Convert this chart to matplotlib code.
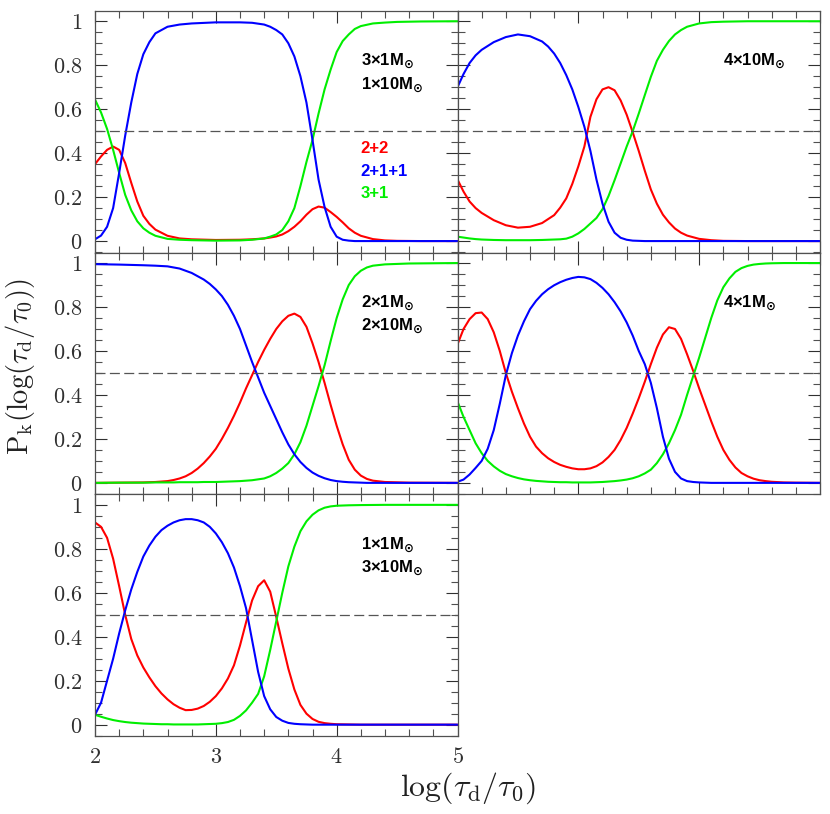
import matplotlib
matplotlib.use("Agg")
import matplotlib.pyplot as plt
from matplotlib.ticker import MultipleLocator, FuncFormatter

plt.rcParams['mathtext.fontset'] = 'cm'

# ---------------- data ----------------
# Panel 1: 3x1Msun + 1x10Msun
x1 = [2.0, 2.05, 2.1, 2.15, 2.2, 2.25, 2.3, 2.35, 2.4, 2.45, 2.5,
      2.6, 2.7, 2.8, 3.0, 3.2, 3.3, 3.4, 3.45,
      3.5, 3.55, 3.6, 3.65, 3.7, 3.75, 3.8, 3.85, 3.9, 3.95, 4.0, 4.05, 4.1, 4.15, 4.2,
      4.3, 4.4, 4.5, 4.7, 5.0]
red1 = [0.35, 0.385, 0.415, 0.43, 0.415, 0.355, 0.265, 0.18, 0.115, 0.078, 0.052,
        0.024, 0.012, 0.008, 0.005, 0.006, 0.008, 0.012, 0.016,
        0.021, 0.03, 0.045, 0.065, 0.09, 0.12, 0.145, 0.157, 0.152, 0.132, 0.11, 0.085,
        0.058, 0.038, 0.024,
        0.009, 0.003, 0.001, 0.0, 0.0]
blue1 = [0.008, 0.025, 0.065, 0.15, 0.31, 0.48, 0.63, 0.76, 0.85, 0.905, 0.945,
         0.975, 0.985, 0.99, 0.995, 0.995, 0.993, 0.985, 0.975,
         0.96, 0.94, 0.90, 0.84, 0.75, 0.63, 0.46, 0.28, 0.155, 0.065, 0.02, 0.006,
         0.002, 0.0, 0.0,
         0.0, 0.0, 0.0, 0.0, 0.0]
green1 = [0.644, 0.585, 0.51, 0.415, 0.31, 0.21, 0.14, 0.09, 0.058, 0.038, 0.024,
          0.01, 0.006, 0.004, 0.002, 0.003, 0.006, 0.012, 0.02,
          0.03, 0.05, 0.09, 0.15, 0.25, 0.36, 0.46, 0.58, 0.69, 0.78, 0.86, 0.91,
          0.94, 0.965, 0.978,
          0.99, 0.994, 0.997, 0.999, 1.0]

# Panel 2: 4x10Msun
x2 = [2.0, 2.05, 2.1, 2.15, 2.2, 2.3, 2.4, 2.5, 2.6, 2.7,
      2.75, 2.8, 2.85, 2.9, 2.95, 3.0, 3.05, 3.1, 3.15, 3.2, 3.25, 3.3, 3.35, 3.4,
      3.45, 3.5, 3.55, 3.6, 3.65, 3.7, 3.75, 3.8, 3.85,
      3.9, 4.0, 4.1, 4.2, 4.4, 4.7, 5.0]
red2 = [0.28, 0.225, 0.18, 0.15, 0.128, 0.095, 0.072, 0.061, 0.065, 0.082,
        0.1, 0.118, 0.152, 0.194, 0.26, 0.34, 0.43, 0.565, 0.645, 0.69, 0.70, 0.686,
        0.64, 0.575, 0.495, 0.41, 0.32, 0.235, 0.17, 0.12, 0.085, 0.057, 0.038,
        0.025, 0.01, 0.004, 0.001, 0.0, 0.0, 0.0]
blue2 = [0.70, 0.76, 0.81, 0.845, 0.87, 0.905, 0.928, 0.94, 0.932, 0.908,
         0.885, 0.853, 0.81, 0.755, 0.69, 0.61, 0.52, 0.41, 0.28, 0.17, 0.088, 0.038,
         0.015, 0.006, 0.002, 0.001, 0.0, 0.0, 0.0, 0.0, 0.0, 0.0, 0.0,
         0.0, 0.0, 0.0, 0.0, 0.0, 0.0, 0.0]
green2 = [0.02, 0.016, 0.012, 0.009, 0.007, 0.005, 0.004, 0.004, 0.004, 0.005,
          0.006, 0.007, 0.008, 0.011, 0.02, 0.035, 0.055, 0.08, 0.105, 0.145, 0.205,
          0.277, 0.353, 0.43, 0.5, 0.58, 0.664, 0.747, 0.82, 0.87, 0.91, 0.94, 0.96,
          0.975, 0.99, 0.996, 0.998, 1.0, 1.0, 1.0]

# Panel 3: 2x1Msun + 2x10Msun
x3 = [2.0, 2.2, 2.4, 2.5,
      2.6, 2.65, 2.7, 2.75, 2.8, 2.85, 2.9, 2.95,
      3.0, 3.05, 3.1, 3.15, 3.2, 3.25, 3.3, 3.35, 3.4, 3.45, 3.5, 3.55, 3.6, 3.65,
      3.7, 3.75, 3.8, 3.85, 3.9, 3.95,
      4.0, 4.05, 4.1, 4.15, 4.2, 4.25, 4.3,
      4.4, 4.6, 5.0]
red3 = [0.0, 0.001, 0.002, 0.004,
        0.008, 0.013, 0.02, 0.03, 0.045, 0.065, 0.09, 0.12,
        0.155, 0.2, 0.25, 0.305, 0.365, 0.43, 0.49, 0.55, 0.605, 0.655, 0.70, 0.735,
        0.76, 0.77, 0.755, 0.71, 0.635, 0.55, 0.455, 0.355,
        0.26, 0.175, 0.105, 0.06, 0.033, 0.018, 0.01,
        0.004, 0.001, 0.0]
blue3 = [0.995, 0.993, 0.99, 0.988,
         0.985, 0.98, 0.975, 0.965, 0.955, 0.94, 0.925, 0.905,
         0.88, 0.85, 0.81, 0.76, 0.70, 0.625, 0.55, 0.48, 0.41, 0.35, 0.29, 0.23,
         0.175, 0.13, 0.095, 0.068, 0.047, 0.032, 0.021, 0.013,
         0.008, 0.005, 0.003, 0.002, 0.001, 0.0, 0.0,
         0.0, 0.0, 0.0]
green3 = [0.0, 0.001, 0.001, 0.002,
          0.002, 0.002, 0.003, 0.003, 0.003, 0.003, 0.004, 0.004,
          0.004, 0.005, 0.006, 0.007, 0.008, 0.01, 0.012, 0.016, 0.02, 0.03, 0.045,
          0.065, 0.09, 0.13, 0.185, 0.26, 0.35, 0.44, 0.535, 0.645,
          0.75, 0.835, 0.9, 0.94, 0.965, 0.98, 0.988,
          0.994, 0.998, 1.0]

# Panel 4: 4x1Msun
x4 = [2.0, 2.05, 2.1, 2.15, 2.2, 2.25, 2.3, 2.35, 2.4, 2.45,
      2.5, 2.55, 2.6, 2.65, 2.7, 2.75, 2.8, 2.85, 2.9, 2.95,
      3.0, 3.05, 3.1, 3.15, 3.2, 3.25, 3.3, 3.35, 3.4, 3.45,
      3.5, 3.55, 3.6, 3.65, 3.7, 3.75, 3.8, 3.85, 3.9, 3.95,
      4.0, 4.05, 4.1, 4.15, 4.2, 4.25, 4.3, 4.35, 4.4, 4.45, 4.5, 4.55, 4.6,
      4.7, 4.8, 5.0]
red4 = [0.63, 0.70, 0.745, 0.772, 0.775, 0.745, 0.685, 0.6, 0.5, 0.415,
        0.34, 0.27, 0.21, 0.165, 0.135, 0.112, 0.095, 0.082, 0.073, 0.066,
        0.062, 0.062, 0.066, 0.076, 0.093, 0.118, 0.15, 0.195, 0.25, 0.315,
        0.385, 0.46, 0.54, 0.615, 0.675, 0.708, 0.70, 0.655, 0.585, 0.51,
        0.43, 0.355, 0.28, 0.21, 0.15, 0.105, 0.07, 0.045, 0.03, 0.019, 0.012, 0.008,
        0.005, 0.002, 0.001, 0.0]
blue4 = [0.005, 0.015, 0.038, 0.068, 0.1, 0.155, 0.24, 0.36, 0.49, 0.59,
         0.67, 0.735, 0.79, 0.828, 0.858, 0.881, 0.899, 0.913, 0.924, 0.932,
         0.937, 0.935, 0.927, 0.91, 0.887, 0.858, 0.822, 0.78, 0.73, 0.67,
         0.6, 0.54, 0.455, 0.34, 0.21, 0.11, 0.05, 0.02, 0.008, 0.004,
         0.002, 0.001, 0.0, 0.0, 0.0, 0.0, 0.0, 0.0, 0.0, 0.0, 0.0, 0.0, 0.0,
         0.0, 0.0, 0.0]
green4 = [0.37, 0.3, 0.24, 0.18, 0.135, 0.1, 0.075, 0.055, 0.04, 0.03,
          0.022, 0.016, 0.012, 0.009, 0.007, 0.005, 0.004, 0.003, 0.003, 0.002,
          0.002, 0.002, 0.002, 0.003, 0.004, 0.006, 0.008, 0.011, 0.015, 0.021,
          0.03, 0.043, 0.06, 0.09, 0.13, 0.18, 0.24, 0.31, 0.4, 0.485,
          0.57, 0.66, 0.75, 0.83, 0.89, 0.93, 0.96, 0.977, 0.987, 0.993, 0.996, 0.998,
          0.999, 1.0, 1.0, 1.0]

# Panel 5: 1x1Msun + 3x10Msun
x5 = [2.0, 2.05, 2.1, 2.15, 2.2, 2.25, 2.3, 2.35, 2.4, 2.45,
      2.5, 2.55, 2.6, 2.65, 2.7, 2.75, 2.8, 2.85, 2.9, 2.95,
      3.0, 3.05, 3.1, 3.15, 3.2, 3.25, 3.3, 3.35, 3.4, 3.45,
      3.5, 3.55, 3.6, 3.65, 3.7, 3.75, 3.8, 3.85, 3.9, 3.95,
      4.0, 4.1, 4.2, 4.4, 5.0]
red5 = [0.92, 0.9, 0.85, 0.755, 0.63, 0.5, 0.39, 0.315, 0.26, 0.215,
        0.175, 0.142, 0.115, 0.093, 0.077, 0.066, 0.067, 0.073, 0.085, 0.104,
        0.13, 0.165, 0.21, 0.27, 0.36, 0.465, 0.565, 0.63, 0.657, 0.605,
        0.49, 0.37, 0.255, 0.16, 0.09, 0.05, 0.026, 0.013, 0.007, 0.004,
        0.002, 0.001, 0.0, 0.0, 0.0]
blue5 = [0.045, 0.1, 0.2, 0.3, 0.415, 0.52, 0.615, 0.695, 0.765, 0.815,
         0.855, 0.885, 0.905, 0.92, 0.93, 0.935, 0.935, 0.93, 0.92, 0.9,
         0.87, 0.83, 0.78, 0.715, 0.63, 0.53, 0.385, 0.24, 0.13, 0.07,
         0.035, 0.018, 0.008, 0.004, 0.002, 0.001, 0.0, 0.0, 0.0, 0.0,
         0.0, 0.0, 0.0, 0.0, 0.0]
green5 = [0.045, 0.036, 0.028, 0.021, 0.016, 0.012, 0.009, 0.007, 0.005, 0.004,
          0.003, 0.002, 0.002, 0.001, 0.001, 0.001, 0.001, 0.001, 0.002, 0.003,
          0.004, 0.007, 0.012, 0.022, 0.04, 0.065, 0.1, 0.14, 0.22, 0.34,
          0.47, 0.6, 0.72, 0.81, 0.88, 0.925, 0.955, 0.975, 0.987, 0.993,
          0.996, 0.998, 0.999, 1.0, 1.0]

panel_labels = [
    ["3\u00d71M", "1\u00d710M"],
    ["4\u00d710M"],
    ["2\u00d71M", "2\u00d710M"],
    ["4\u00d71M"],
    ["1\u00d71M", "3\u00d710M"],
]
series_names = ["2+2", "2+1+1", "3+1"]
threshold = 0.5

panels = [
    (x1, red1, blue1, green1),
    (x2, red2, blue2, green2),
    (x3, red3, blue3, green3),
    (x4, red4, blue4, green4),
    (x5, red5, blue5, green5),
]

# ---------------- layout ----------------
W, H = 830, 814
fig = plt.figure(figsize=(W / 100, H / 100), dpi=100)

x_left, col_w = 95, 362.5
y_top, row_h = 10.7, 241.8
grid_pos = [(0, 0), (0, 1), (1, 0), (1, 1), (2, 0)]  # (row, col)

RED, BLUE, GREEN = '#ff0000', '#0000ff', '#00ee00'
FRAME = '#505050'
tick_fmt = FuncFormatter(lambda v, p: f'${v:g}$')
SUN = r'$_{\mathbf{\odot}}$'

for idx, ((r, c), (xs, rr, bb, gg)) in enumerate(zip(grid_pos, panels)):
    left = (x_left + c * col_w) / W
    bottom = 1 - (y_top + (r + 1) * row_h) / H
    ax = fig.add_axes([left, bottom, col_w / W, row_h / H])
    kw = dict(lw=1.5, solid_joinstyle='round', solid_capstyle='round')
    ax.plot(xs, rr, color=RED, **kw)
    ax.plot(xs, gg, color=GREEN, **kw)
    ax.plot(xs, bb, color=BLUE, **kw)
    ax.axhline(threshold, color='#555555', lw=0.9, dashes=(8, 3.5))
    ax.set_xlim(2, 5)
    ax.set_ylim(-0.052, 1.048)
    ax.xaxis.set_major_locator(MultipleLocator(1))
    ax.xaxis.set_minor_locator(MultipleLocator(0.2))
    ax.yaxis.set_major_locator(MultipleLocator(0.2))
    ax.yaxis.set_minor_locator(MultipleLocator(0.05))
    ax.tick_params(which='both', direction='in', top=True, right=True,
                   color=FRAME, width=0.8)
    ax.tick_params(which='major', length=8.5, labelsize=16, colors='#303030')
    ax.tick_params(which='minor', length=5)
    ax.tick_params(axis='y', which='major', pad=9)
    ax.tick_params(axis='x', which='major', pad=8)
    ax.xaxis.set_major_formatter(tick_fmt)
    ax.yaxis.set_major_formatter(tick_fmt)
    for s in ax.spines.values():
        s.set_color(FRAME)
        s.set_linewidth(0.9)
    if r != 2:
        ax.tick_params(axis='x', labelbottom=False)
    if c != 0:
        ax.tick_params(axis='y', labelleft=False)

    ybase = [0.795, 0.69]
    for k, t in enumerate(panel_labels[idx]):
        ax.text(4.2, ybase[k], t + SUN, fontsize=12, fontweight='bold',
                family='Liberation Sans', math_fontfamily='dejavusans',
                color='black', va='baseline', ha='left')
    if idx == 0:
        for t, col, yb in zip(series_names, [RED, BLUE, GREEN], [0.40, 0.296, 0.196]):
            ax.text(4.2, yb, t, fontsize=12, fontweight='bold',
                    family='Liberation Sans', color=col, va='baseline', ha='left')

fig.text(20 / W, 1 - 367 / H, r'$\mathrm{P_k(log(\tau_d/\tau_0))}$',
         rotation=90, ha='center', va='center', fontsize=20.5, color='#202020')
fig.text(468 / W, 1 - 788 / H, r'$\mathrm{log}(\tau_\mathrm{d}/\tau_0)$',
         ha='center', va='center', fontsize=23, color='#202020')

fig.savefig('out.png', dpi=100)
